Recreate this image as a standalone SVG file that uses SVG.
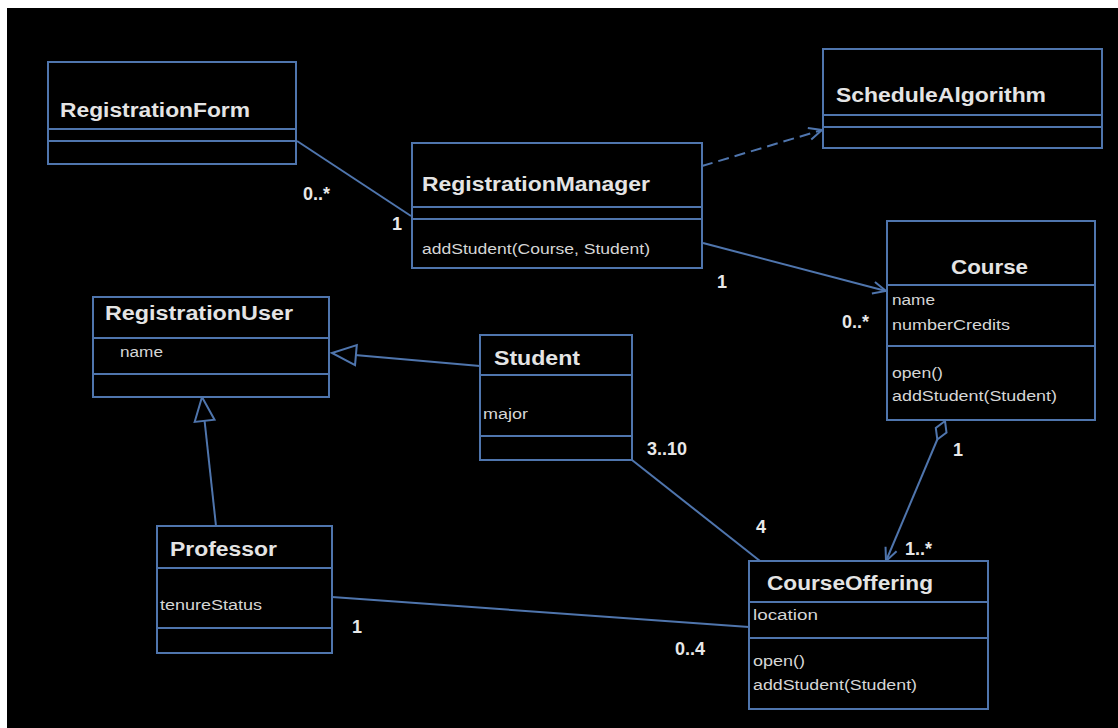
<svg xmlns="http://www.w3.org/2000/svg" width="1118" height="728" viewBox="0 0 1118 728">
<style>
.box{fill:#000;stroke:#4f75ad;stroke-width:2}
.div{stroke:#4f75ad;stroke-width:2}
.t{font-family:"Liberation Sans",Arial,sans-serif;font-weight:bold;font-size:20px;fill:#e4e4e4}
.s{font-family:"Liberation Sans",Arial,sans-serif;font-size:14px;fill:#d6d6d6}
.m{font-family:"Liberation Sans",Arial,sans-serif;font-weight:bold;font-size:18px;fill:#e8e8e8}
.ln{stroke:#4f75ad;stroke-width:2;fill:none}
.dash{stroke-dasharray:11 6}
</style>
<defs>
<marker id="open" markerUnits="userSpaceOnUse" markerWidth="16" markerHeight="16" refX="14" refY="7" orient="auto" viewBox="0 0 16 14">
<path d="M1,1 L14,7 L1,13" fill="none" stroke="#4f75ad" stroke-width="2"/>
</marker>
<marker id="tri" markerUnits="userSpaceOnUse" markerWidth="28" markerHeight="24" refX="26" refY="11" orient="auto" viewBox="0 0 28 22">
<path d="M2,1 L26,11 L2,21 Z" fill="#000" stroke="#4f75ad" stroke-width="2"/>
</marker>
</defs>
<rect x="0" y="0" width="1118" height="728" fill="#fff"/>
<rect x="7" y="8" width="1111" height="720" fill="#000"/>

<g id="connectors">
<line class="ln" x1="297" y1="141" x2="411" y2="216"/>
<line class="ln dash" x1="702" y1="166" x2="822" y2="130" marker-end="url(#open)"/>
<line class="ln" x1="703" y1="243" x2="886" y2="291" marker-end="url(#open)"/>
<line class="ln" x1="480" y1="366" x2="332" y2="353" marker-end="url(#tri)"/>
<line class="ln" x1="216" y1="526" x2="202" y2="397" marker-end="url(#tri)"/>
<line class="ln" x1="632" y1="460" x2="760" y2="561"/>
<line class="ln" x1="332" y1="597" x2="749" y2="627"/>
<polygon points="945,421 946.5,432.6 937.3,439.5 935.8,427.9" fill="#000" stroke="#4f75ad" stroke-width="2"/>
<line class="ln" x1="937.3" y1="439.5" x2="886" y2="561" marker-end="url(#open)"/>
</g>

<g id="RegistrationForm">
<rect class="box" x="48" y="62" width="248" height="102"/>
<line class="div" x1="48" y1="129" x2="296" y2="129"/>
<line class="div" x1="48" y1="141" x2="296" y2="141"/>
<text class="t" x="60" y="117" textLength="190" lengthAdjust="spacingAndGlyphs">RegistrationForm</text>
</g>

<g id="RegistrationManager">
<rect class="box" x="412" y="143" width="290" height="125"/>
<line class="div" x1="412" y1="207" x2="702" y2="207"/>
<line class="div" x1="412" y1="219" x2="702" y2="219"/>
<text class="t" x="422" y="191" textLength="228" lengthAdjust="spacingAndGlyphs">RegistrationManager</text>
<text class="s" x="422" y="254" textLength="228" lengthAdjust="spacingAndGlyphs">addStudent(Course, Student)</text>
</g>

<g id="ScheduleAlgorithm">
<rect class="box" x="823" y="49" width="279" height="99"/>
<line class="div" x1="823" y1="115" x2="1102" y2="115"/>
<line class="div" x1="823" y1="127" x2="1102" y2="127"/>
<text class="t" x="836" y="102" textLength="210" lengthAdjust="spacingAndGlyphs">ScheduleAlgorithm</text>
</g>

<g id="Course">
<rect class="box" x="887" y="221" width="208" height="199"/>
<line class="div" x1="887" y1="285" x2="1095" y2="285"/>
<line class="div" x1="887" y1="346" x2="1095" y2="346"/>
<text class="t" x="951" y="274" textLength="77" lengthAdjust="spacingAndGlyphs">Course</text>
<text class="s" x="892" y="305" textLength="43" lengthAdjust="spacingAndGlyphs">name</text>
<text class="s" x="892" y="330" textLength="118" lengthAdjust="spacingAndGlyphs">numberCredits</text>
<text class="s" x="892" y="378" textLength="51" lengthAdjust="spacingAndGlyphs">open()</text>
<text class="s" x="892" y="401" textLength="165" lengthAdjust="spacingAndGlyphs">addStudent(Student)</text>
</g>

<g id="RegistrationUser">
<rect class="box" x="93" y="297" width="236" height="100"/>
<line class="div" x1="93" y1="338" x2="329" y2="338"/>
<line class="div" x1="93" y1="374" x2="329" y2="374"/>
<text class="t" x="105" y="320" textLength="188" lengthAdjust="spacingAndGlyphs">RegistrationUser</text>
<text class="s" x="120" y="357" textLength="43" lengthAdjust="spacingAndGlyphs">name</text>
</g>

<g id="Student">
<rect class="box" x="480" y="335" width="152" height="125"/>
<line class="div" x1="480" y1="375" x2="632" y2="375"/>
<line class="div" x1="480" y1="436" x2="632" y2="436"/>
<text class="t" x="494" y="365" textLength="86" lengthAdjust="spacingAndGlyphs">Student</text>
<text class="s" x="483" y="419" textLength="45" lengthAdjust="spacingAndGlyphs">major</text>
</g>

<g id="Professor">
<rect class="box" x="157" y="526" width="175" height="127"/>
<line class="div" x1="157" y1="568" x2="332" y2="568"/>
<line class="div" x1="157" y1="628" x2="332" y2="628"/>
<text class="t" x="170" y="556" textLength="107" lengthAdjust="spacingAndGlyphs">Professor</text>
<text class="s" x="160" y="610" textLength="102" lengthAdjust="spacingAndGlyphs">tenureStatus</text>
</g>

<g id="CourseOffering">
<rect class="box" x="749" y="561" width="239" height="148"/>
<line class="div" x1="749" y1="602" x2="988" y2="602"/>
<line class="div" x1="749" y1="638" x2="988" y2="638"/>
<text class="t" x="767" y="590" textLength="166" lengthAdjust="spacingAndGlyphs">CourseOffering</text>
<text class="s" x="753" y="620" textLength="65" lengthAdjust="spacingAndGlyphs">location</text>
<text class="s" x="753" y="666" textLength="52" lengthAdjust="spacingAndGlyphs">open()</text>
<text class="s" x="753" y="690" textLength="164" lengthAdjust="spacingAndGlyphs">addStudent(Student)</text>
</g>

<g id="multiplicities">
<text class="m" x="303" y="200">0..*</text>
<text class="m" x="392" y="230">1</text>
<text class="m" x="717" y="288">1</text>
<text class="m" x="842" y="328">0..*</text>
<text class="m" x="953" y="456">1</text>
<text class="m" x="647" y="455">3..10</text>
<text class="m" x="756" y="533">4</text>
<text class="m" x="905" y="555">1..*</text>
<text class="m" x="352" y="633">1</text>
<text class="m" x="675" y="655">0..4</text>
</g>
</svg>
